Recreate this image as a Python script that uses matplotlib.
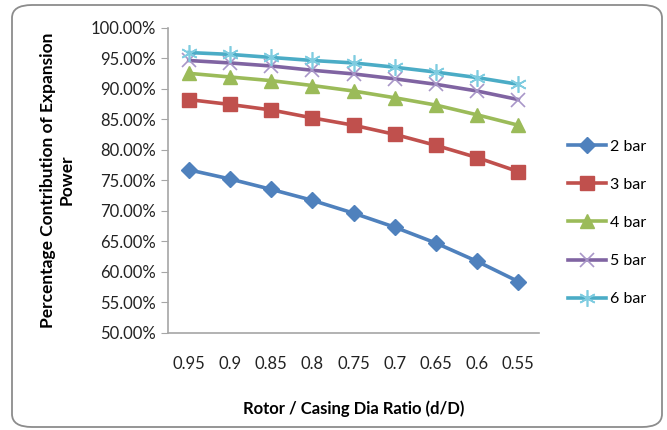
import matplotlib.pyplot as plt
from matplotlib.patches import FancyBboxPatch
from matplotlib.ticker import FuncFormatter, MultipleLocator

# ratio d/D on the category axis
ratios = ["0.95", "0.9", "0.85", "0.8", "0.75", "0.7", "0.65", "0.6", "0.55"]

# percentage contribution of expansion power, one list per pressure
bar2 = [76.7, 75.2, 73.5, 71.7, 69.6, 67.3, 64.7, 61.7, 58.4]
bar3 = [88.2, 87.4, 86.5, 85.2, 84.0, 82.5, 80.7, 78.7, 76.4]
bar4 = [92.5, 91.9, 91.3, 90.5, 89.6, 88.5, 87.3, 85.7, 84.0]
bar5 = [94.6, 94.2, 93.7, 93.0, 92.4, 91.6, 90.7, 89.6, 88.2]
bar6 = [95.9, 95.6, 95.1, 94.6, 94.2, 93.5, 92.7, 91.8, 90.7]

labels = ["2 bar", "3 bar", "4 bar", "5 bar", "6 bar"]

plt.rcParams['font.family'] = ['Lato', 'DejaVu Sans']

fig = plt.figure(figsize=(6.67, 4.30), dpi=100)
ax = fig.add_axes([0.252, 0.226, 0.556, 0.71])

x = range(len(ratios))
ax.plot(x, bar2, color="#4F81BD", lw=2.6, marker="D", ms=8, label=labels[0])
ax.plot(x, bar3, color="#C0504D", lw=2.6, marker="s", ms=9.5, label=labels[1])
ax.plot(x, bar4, color="#9BBB59", lw=2.6, marker="^", ms=10, label=labels[2])
ax.plot(x, bar5, color="#8064A2", lw=2.6, marker="x", ms=10, mew=1.2,
        mec="#A896C8", label=labels[3])
ax.plot(x, bar6, color="#4BACC6", lw=2.6, marker=(6, 2, 0), ms=12, mew=1.2,
        mec="#7FCCE0", label=labels[4])

ax.set_xlim(-0.5, len(ratios) - 0.5)
ax.set_ylim(50, 100)
ax.set_xticks(list(x))
ax.set_xticklabels(ratios)
ax.yaxis.set_major_locator(MultipleLocator(5))
ax.yaxis.set_major_formatter(FuncFormatter(lambda v, p: f"{v:.2f}%"))

for s in ["top", "right"]:
    ax.spines[s].set_visible(False)
for s in ["left", "bottom"]:
    ax.spines[s].set_color("#A6A6A6")
    ax.spines[s].set_linewidth(1.2)
ax.tick_params(axis="y", direction="out", length=5, color="#A6A6A6",
               labelsize=12, pad=4, labelcolor="#222222")
ax.tick_params(axis="x", length=0, labelsize=12, pad=17, labelcolor="#222222")

ax.set_xlabel("Rotor / Casing Dia Ratio (d/D)", fontsize=12, fontweight="bold",
              labelpad=20)
ax.set_ylabel("Percentage Contribution of Expansion\nPower", fontsize=12.5,
              fontweight="bold", labelpad=11)

ax.legend(loc="center left", bbox_to_anchor=(1.04, 0.36), frameon=False,
          fontsize=11.5, handlelength=2.4, labelspacing=1.5, handletextpad=0.2,
          numpoints=1)

# rounded chart border
border = FancyBboxPatch((12 / 667, 3 / 430), 650 / 667, 422 / 430,
                        boxstyle="round,pad=0,rounding_size=0.03",
                        transform=fig.transFigure, fill=False,
                        ec="#8C8C8C", lw=1.3)
fig.patches.append(border)

fig.savefig("out.png", dpi=100)
